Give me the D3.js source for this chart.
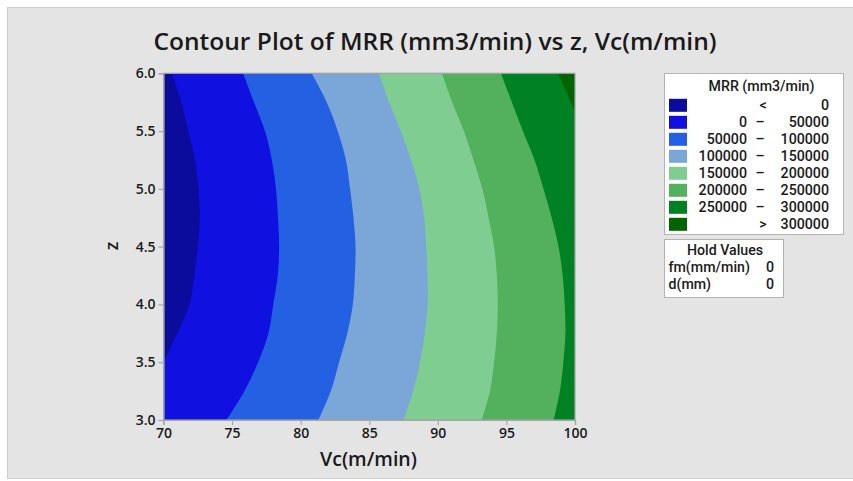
<!DOCTYPE html>
<html>
<head>
<meta charset="utf-8">
<script src="https://cdn.jsdelivr.net/npm/d3@7"></script>
<style>
  html, body { margin: 0; padding: 0; background: #ffffff; }
  svg { display: block; }
  text { font-family: "Open Sans", "Noto Sans", sans-serif; fill: #1a1a1a; }
  .lg text { font-family: Roboto, "Liberation Sans", sans-serif; }
</style>
</head>
<body>
<svg id="chart" width="853" height="481"></svg>
<script>
// ---------------- data ----------------
const title = "Contour Plot of MRR (mm3/min) vs z, Vc(m/min)";
const xLabel = "Vc(m/min)";
const yLabel = "z";
const xTicks = [70, 75, 80, 85, 90, 95, 100];
const yTicks = [3.0, 3.5, 4.0, 4.5, 5.0, 5.5, 6.0];

// z positions at which each contour line was read (top to bottom)
const zGrid = [6.0, 5.75, 5.5, 5.25, 5.0, 4.75, 4.5, 4.25, 4.0, 3.75, 3.5, 3.25, 3.0];
// Vc where each contour level is crossed at those z values
const vcLevel0      = [70.6, 71.3, 71.8, 72.3, 72.55, 72.65, 72.5, 72.25, 71.9, 71.0, 70.0];
const vcLevel50000  = [75.8, 76.6, 77.4, 77.9, 78.2, 78.35, 78.43, 78.33, 78.0, 77.65, 76.9, 75.9, 74.6];
const vcLevel100000 = [80.8, 81.9, 82.7, 83.3, 83.6, 83.85, 84.0, 83.95, 83.8, 83.4, 82.8, 82.2, 81.3];
const vcLevel150000 = [85.7, 86.45, 87.3, 88.05, 88.65, 89.0, 89.15, 89.25, 89.25, 89.05, 88.7, 88.2, 87.5];
const vcLevel200000 = [90.3, 91.05, 91.9, 92.6, 93.25, 93.7, 94.1, 94.3, 94.37, 94.3, 94.1, 93.8, 93.2];
const vcLevel250000 = [94.6, 95.4, 96.2, 97.05, 97.7, 98.3, 98.8, 99.1, 99.25, 99.3, 99.15, 98.9, 98.45];
const zLevel300000  = [6.0, 5.67];
const vcLevel300000 = [98.75, 100];

const legendTitle = "MRR (mm3/min)";
const legendLow   = ["", "0", "50000", "100000", "150000", "200000", "250000", ""];
const legendSep   = ["<", "\u2013", "\u2013", "\u2013", "\u2013", "\u2013", "\u2013", ">"];
const legendHigh  = ["0", "50000", "100000", "150000", "200000", "250000", "300000", "300000"];
const bandColors  = ["#0b0b9c", "#1010e0", "#2461e2", "#7ba6d8", "#80cd92", "#53b05c", "#008224", "#006400"];

const holdTitle  = "Hold Values";
const holdNames  = ["fm(mm/min)", "d(mm)"];
const holdValues = [0, 0];

// ---------------- drawing ----------------
const svg = d3.select("#chart");

// outer frame
svg.append("rect").attr("x", 7.5).attr("y", 7.5).attr("width", 850).attr("height", 471)
  .attr("fill", "#e4e4e4").attr("stroke", "#cfcfcf").attr("stroke-width", 1);

const plot = { left: 163.5, right: 575, top: 73.3, bottom: 420 };
const x = d3.scaleLinear().domain([70, 100]).range([plot.left, plot.right]);
const y = d3.scaleLinear().domain([3, 6]).range([plot.bottom, plot.top]);

svg.append("clipPath").attr("id", "plotclip")
  .append("rect").attr("x", plot.left).attr("y", plot.top)
  .attr("width", plot.right - plot.left).attr("height", plot.bottom - plot.top);

const bands = svg.append("g").attr("clip-path", "url(#plotclip)");

// lowest band fills the whole area
bands.append("rect").attr("x", plot.left).attr("y", plot.top)
  .attr("width", plot.right - plot.left).attr("height", plot.bottom - plot.top)
  .attr("fill", bandColors[0]);

const boundaries = [
  { vc: vcLevel0,      z: zGrid },
  { vc: vcLevel50000,  z: zGrid },
  { vc: vcLevel100000, z: zGrid },
  { vc: vcLevel150000, z: zGrid },
  { vc: vcLevel200000, z: zGrid },
  { vc: vcLevel250000, z: zGrid },
  { vc: vcLevel300000, z: zLevel300000 }
].map(b => b.vc.map((v, i) => [v, b.z[i]]));

const line = d3.line().x(d => x(d[0])).y(d => y(d[1])).curve(d3.curveCatmullRom.alpha(0.5));

boundaries.forEach((pts, k) => {
  const first = pts[0], last = pts[pts.length - 1];
  const path = line(pts) +
    "L" + x(last[0]) + "," + y(2.5) +
    "L" + x(106) + "," + y(2.5) +
    "L" + x(106) + "," + y(6.5) +
    "L" + x(first[0]) + "," + y(6.5) + "Z";
  bands.append("path").attr("d", path).attr("fill", bandColors[k + 1]);
});

// plot frame
svg.append("rect").attr("x", plot.left).attr("y", plot.top)
  .attr("width", plot.right - plot.left).attr("height", plot.bottom - plot.top)
  .attr("fill", "none").attr("stroke", "#a6a6a6").attr("stroke-width", 1.2);

// axes
const xAxis = svg.append("g").attr("transform", `translate(0,${plot.bottom})`)
  .call(d3.axisBottom(x).tickValues(xTicks).tickSize(5).tickPadding(3).tickFormat(d3.format("d")));
const yAxis = svg.append("g").attr("transform", `translate(${plot.left},0)`)
  .call(d3.axisLeft(y).tickValues(yTicks).tickSize(5).tickPadding(3).tickFormat(d3.format(".1f")));
[xAxis, yAxis].forEach(a => {
  a.select(".domain").attr("stroke", "#a6a6a6").attr("stroke-width", 1.2);
  a.selectAll(".tick line").attr("stroke", "#a6a6a6").attr("stroke-width", 1.2);
  a.selectAll(".tick text").attr("fill", "#1a1a1a")
    .style("font-family", "'Open Sans', sans-serif").style("font-size", "14px").style("font-weight", "600");
});

// title & axis labels
svg.append("text").attr("x", 435).attr("y", 50).attr("text-anchor", "middle")
  .attr("textLength", 563).attr("lengthAdjust", "spacingAndGlyphs")
  .style("font-size", "23.5px").style("font-weight", "600").text(title);
svg.append("text").attr("x", 368.5).attr("y", 466).attr("text-anchor", "middle")
  .style("font-size", "19.5px").style("font-weight", "600").text(xLabel);
svg.append("text").attr("transform", "translate(118,246) rotate(-90)").attr("text-anchor", "middle")
  .style("font-size", "18px").style("font-weight", "600").text(yLabel);

// legend
const fs = "14.2px";
const lg = svg.append("g").attr("class", "lg");
lg.append("rect").attr("x", 664.5).attr("y", 73.5).attr("width", 179).attr("height", 161)
  .attr("fill", "#ffffff").attr("stroke", "#b4b4b4");
lg.append("text").attr("x", 761.5).attr("y", 90.5).attr("text-anchor", "middle")
  .style("font-size", fs).style("font-weight", "500").text(legendTitle);
bandColors.forEach((c, i) => {
  const cy = 105.3 + i * 17;
  lg.append("rect").attr("x", 669).attr("y", cy - 6.5).attr("width", 18).attr("height", 13).attr("fill", c);
  lg.append("text").attr("x", 747).attr("y", cy + 5).attr("text-anchor", "end")
    .style("font-size", fs).style("font-weight", "500").text(legendLow[i]);
  lg.append("text").attr("x", legendSep[i] === "\u2013" ? 760 : 763).attr("y", cy + 5).attr("text-anchor", "middle")
    .style("font-size", fs).style("font-weight", "500").text(legendSep[i]);
  lg.append("text").attr("x", 829).attr("y", cy + 5).attr("text-anchor", "end")
    .style("font-size", fs).style("font-weight", "500").text(legendHigh[i]);
});

// hold values
const hv = svg.append("g").attr("class", "lg");
hv.append("rect").attr("x", 664.5).attr("y", 239.5).attr("width", 119).attr("height", 58)
  .attr("fill", "#ffffff").attr("stroke", "#b4b4b4");
hv.append("text").attr("x", 725).attr("y", 255).attr("text-anchor", "middle")
  .style("font-size", "14.2px").style("font-weight", "500").text(holdTitle);
holdNames.forEach((n, i) => {
  const by = 272 + i * 17;
  hv.append("text").attr("x", 668.5).attr("y", by).style("font-size", "14.2px").style("font-weight", "500").text(n);
  hv.append("text").attr("x", 774).attr("y", by).attr("text-anchor", "end")
    .style("font-size", "14.2px").style("font-weight", "500").text(holdValues[i]);
});
</script>
</body>
</html>
